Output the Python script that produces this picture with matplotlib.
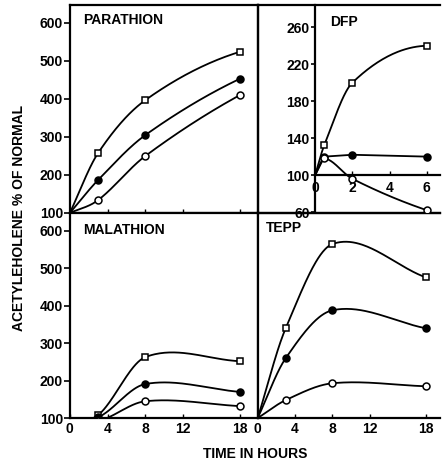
import numpy as np
import matplotlib
matplotlib.use('Agg')
import matplotlib.pyplot as plt

plt.rcParams['font.family'] = ['Liberation Sans', 'DejaVu Sans']
plt.rcParams['font.weight'] = 'bold'

# data (time in hours, % of normal)
t_long = [0, 3, 8, 18]
parathion_sq = [100, 258, 397, 524]
parathion_fill = [100, 187, 305, 453]
parathion_open = [100, 134, 250, 410]

malathion_sq = [100, 108, 263, 252]
malathion_fill = [100, 102, 191, 170]
malathion_open = [100, 92, 145, 132]

tepp_sq = [100, 340, 565, 476]
tepp_fill = [100, 260, 388, 340]
tepp_open = [100, 148, 193, 185]

t_dfp = [0, 0.5, 2, 6]
dfp_sq = [100, 133, 200, 240]
dfp_fill = [100, 120, 122, 120]
dfp_open = [100, 118, 96, 62]

long_ticks = [0, 4, 8, 12, 18]
big_yticks = [100, 200, 300, 400, 500, 600]
dfp_yticks = [60, 100, 140, 180, 220, 260]
dfp_xticks = [0, 2, 4, 6]


def smooth(x, y, flat_end=False, n=60):
    # hand-drawn looking curve: cubic hermite with centred slopes
    x = np.asarray(x, float)
    y = np.asarray(y, float)
    k = len(x)
    m = np.zeros(k)
    for i in range(1, k - 1):
        m[i] = (y[i + 1] - y[i - 1]) / (x[i + 1] - x[i - 1])
    m[0] = (y[1] - y[0]) / (x[1] - x[0])
    sec = (y[-1] - y[-2]) / (x[-1] - x[-2])
    m[-1] = 2 * sec - m[-2] if flat_end else sec
    xs, ys = [], []
    for i in range(k - 1):
        h = x[i + 1] - x[i]
        t = np.linspace(0, 1, n)
        h00 = 2 * t**3 - 3 * t**2 + 1
        h10 = t**3 - 2 * t**2 + t
        h01 = -2 * t**3 + 3 * t**2
        h11 = t**3 - t**2
        xs.append(x[i] + t * h)
        ys.append(h00 * y[i] + h10 * h * m[i] + h01 * y[i + 1] + h11 * h * m[i + 1])
    return np.concatenate(xs), np.concatenate(ys)


def draw(ax, x, y, marker, fill, curve=True, flat_end=False):
    if curve:
        xs, ys = smooth(x, y, flat_end)
    else:
        xs, ys = x, y
    ax.plot(xs, ys, color='black', lw=1.3, zorder=2)
    ax.plot(x[1:], y[1:], linestyle='none', marker=marker, ms=5,
            mfc='black' if fill else 'white', mec='black', mew=1.1, zorder=3)


fig = plt.figure(figsize=(4.42, 4.63), dpi=100)

ax1 = fig.add_axes([0.158, 0.540, 0.425, 0.449])  # parathion
ax2 = fig.add_axes([0.158, 0.097, 0.425, 0.443])  # malathion
ax3 = fig.add_axes([0.583, 0.097, 0.412, 0.443])  # tepp
ax0 = fig.add_axes([0.583, 0.540, 0.412, 0.449])  # frame around dfp
ax4 = fig.add_axes([0.713, 0.542, 0.282, 0.447])  # dfp

for ax in [ax1, ax2, ax3, ax0, ax4]:
    for s in ax.spines.values():
        s.set_linewidth(1.6)

# Parathion
draw(ax1, t_long, parathion_sq, 's', False, flat_end=True)
draw(ax1, t_long, parathion_fill, 'o', True, flat_end=True)
draw(ax1, t_long, parathion_open, 'o', False, flat_end=True)
ax1.set_xlim(0, 19.9)
ax1.set_ylim(100, 647)
ax1.set_yticks(big_yticks)
ax1.set_xticks(long_ticks)
ax1.set_xticklabels([])
ax1.tick_params(axis='y', direction='out', length=4, width=1.2, labelsize=10, pad=1)
ax1.tick_params(axis='x', direction='in', length=3, width=1.0)
ax1.text(0.07, 0.93, 'PARATHION', transform=ax1.transAxes, fontsize=10,
         fontweight='bold', va='center')

# Malathion
draw(ax2, t_long, malathion_sq, 's', False)
draw(ax2, t_long, malathion_fill, 'o', True)
draw(ax2, t_long, malathion_open, 'o', False)
ax2.set_xlim(0, 19.9)
ax2.set_ylim(100, 648)
ax2.set_yticks(big_yticks)
ax2.set_xticks(long_ticks)
ax2.tick_params(axis='y', direction='out', length=4, width=1.2, labelsize=10, pad=1)
ax2.tick_params(axis='x', direction='in', length=3, width=1.0, labelsize=10, pad=3)
ax2.text(0.07, 0.915, 'MALATHION', transform=ax2.transAxes, fontsize=10,
         fontweight='bold', va='center')

# TEPP
draw(ax3, t_long, tepp_sq, 's', False)
draw(ax3, t_long, tepp_fill, 'o', True)
draw(ax3, t_long, tepp_open, 'o', False)
ax3.set_xlim(0, 19.5)
ax3.set_ylim(100, 648)
ax3.set_yticks([])
ax3.set_xticks(long_ticks)
ax3.spines['right'].set_visible(False)
ax3.tick_params(axis='x', direction='in', length=3, width=1.0, labelsize=10, pad=3)
ax3.text(0.045, 0.925, 'TEPP', transform=ax3.transAxes, fontsize=10,
         fontweight='bold', va='center')

# frame around DFP
ax0.set_xticks([])
ax0.set_yticks([])
ax0.spines['right'].set_visible(False)
ax0.patch.set_alpha(0)

# DFP
draw(ax4, t_dfp, dfp_sq, 's', False, flat_end=True)
draw(ax4, t_dfp, dfp_fill, 'o', True, curve=False)
draw(ax4, t_dfp, dfp_open, 'o', False, flat_end=True)
ax4.set_xlim(0, 6.7)
ax4.set_ylim(60, 284)
ax4.set_yticks(dfp_yticks)
ax4.set_xticks(dfp_xticks)
ax4.spines['bottom'].set_position(('data', 100))
ax4.spines['top'].set_visible(False)
ax4.spines['right'].set_visible(False)
ax4.patch.set_alpha(0)
ax4.tick_params(axis='y', direction='out', length=3, width=1.2, labelsize=10, pad=1)
ax4.tick_params(axis='x', direction='in', length=3, width=1.0, labelsize=10, pad=4)
ax4.text(0.12, 0.92, 'DFP', transform=ax4.transAxes, fontsize=10,
         fontweight='bold', va='center')

for ax in [ax1, ax2, ax3, ax4]:
    for lab in ax.get_xticklabels() + ax.get_yticklabels():
        lab.set_fontweight('bold')

fig.text(0.043, 0.53, 'ACETYLEHOLENE % OF NORMAL', rotation=90, fontsize=10,
         fontweight='bold', ha='center', va='center')
fig.text(0.578, 0.02, 'TIME IN HOURS', fontsize=10, fontweight='bold',
         ha='center', va='center')

fig.savefig('out.png', dpi=100)
